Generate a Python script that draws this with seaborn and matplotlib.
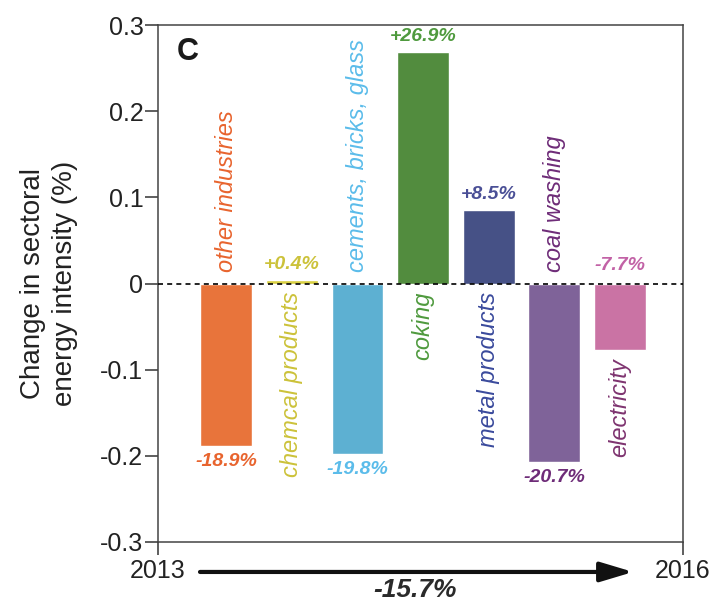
import numpy as np
import pandas as pd
import matplotlib
matplotlib.use("Agg")
import matplotlib.pyplot as plt
import seaborn as sns

# data
sectors = ['other industries', 'chemcal products', 'cements, bricks, glass',
           'coking', 'metal products', 'coal washing', 'electricity']
values = [-0.189, 0.004, -0.198, 0.269, 0.085, -0.207, -0.077]
value_labels = ['-18.9%', '+0.4%', '-19.8%', '+26.9%', '+8.5%', '-20.7%', '-7.7%']
bar_colors = ['#E8743B', '#D8CF42', '#5DB0D2', '#528C3E', '#465186', '#7F6399', '#CA73A4']
name_colors = ['#E8642E', '#CCC23A', '#5BBCEA', '#4F9A3E', '#3A4A9C', '#6E2C78', '#7E3470']
value_colors = ['#E8642E', '#CCC23A', '#5BBCEA', '#4F9A3E', '#4A4F96', '#6E2C78', '#C262A6']
y_ticks = [-0.3, -0.2, -0.1, 0, 0.1, 0.2, 0.3]
y_tick_labels = ['-0.3', '-0.2', '-0.1', '0', '0.1', '0.2', '0.3']
years = ['2013', '2016']
total_change = '-15.7%'

sns.set_style('ticks')
plt.rcParams['font.family'] = ['Liberation Sans', 'DejaVu Sans']

df = pd.DataFrame({'sector': sectors, 'value': values})

fig = plt.figure(figsize=(7.13, 6.03), dpi=100)
ax = fig.add_axes([0.2216, 0.1012, 0.7364, 0.8573])

sns.barplot(data=df, x='sector', y='value', hue='sector', palette=bar_colors,
            legend=False, width=0.79, saturation=1, ax=ax)

ax.axhline(0, color='black', lw=1.2, ls=(0, (3, 2.5)), zorder=3)

ax.set_ylim(-0.3, 0.3)
ax.set_xlim(-1.04, 6.96)
ax.set_yticks(y_ticks, y_tick_labels)
ax.set_xticks([-1.04, 6.96], years)
ax.tick_params(axis='both', direction='out', length=9.5, width=1.1,
               colors='#333333', labelcolor='#222222', labelsize=18)
ax.tick_params(axis='y', pad=1)
ax.tick_params(axis='x', pad=3)
for s in ax.spines.values():
    s.set_visible(True)
    s.set_linewidth(1.1)
    s.set_color('#444444')

ax.set_xlabel('')
ax.set_ylabel('Change in sectoral\nenergy intensity (%)', fontsize=20,
              color='#222222', linespacing=1.3, labelpad=16)

# labels for each bar
for i, v in enumerate(values):
    if sectors[i] == 'electricity':
        # name below the bar, value above the zero line
        ax.annotate(sectors[i], (i, v), xytext=(0, -6), textcoords='offset points',
                    rotation=90, ha='center', va='top', fontsize=17,
                    style='italic', color=name_colors[i])
        ax.annotate(value_labels[i], (i, 0), xytext=(0, 7), textcoords='offset points',
                    ha='center', va='bottom', fontsize=14, style='italic',
                    fontweight='bold', color=value_colors[i])
    elif v >= 0:
        ax.annotate(value_labels[i], (i, v), xytext=(0, 5), textcoords='offset points',
                    ha='center', va='bottom', fontsize=14, style='italic',
                    fontweight='bold', color=value_colors[i])
        ax.annotate(sectors[i], (i, 0), xytext=(0, -6), textcoords='offset points',
                    rotation=90, ha='center', va='top', fontsize=17,
                    style='italic', color=name_colors[i])
    else:
        ax.annotate(value_labels[i], (i, v), xytext=(0, -5), textcoords='offset points',
                    ha='center', va='top', fontsize=14, style='italic',
                    fontweight='bold', color=value_colors[i])
        ax.annotate(sectors[i], (i, 0), xytext=(0, 8), textcoords='offset points',
                    rotation=90, ha='center', va='bottom', fontsize=17,
                    style='italic', color=name_colors[i])

ax.text(0.057, 0.948, 'C', transform=ax.transAxes, fontsize=22, fontweight='bold',
        ha='center', va='center', color='#1a1a1a')

# timeline arrow below the axis
ax.annotate('', xy=(0.905, -0.058), xytext=(0.08, -0.058), xycoords='axes fraction',
            annotation_clip=False,
            arrowprops=dict(arrowstyle='-|>,head_length=1.0,head_width=0.3',
                            mutation_scale=20, lw=3, color='#111111',
                            shrinkA=0, shrinkB=0))
ax.text(0.49, -0.093, total_change, transform=ax.transAxes, fontsize=19,
        fontweight='bold', style='italic', ha='center', va='center', color='#2a2a2a')

fig.savefig('out.png', dpi=100)
